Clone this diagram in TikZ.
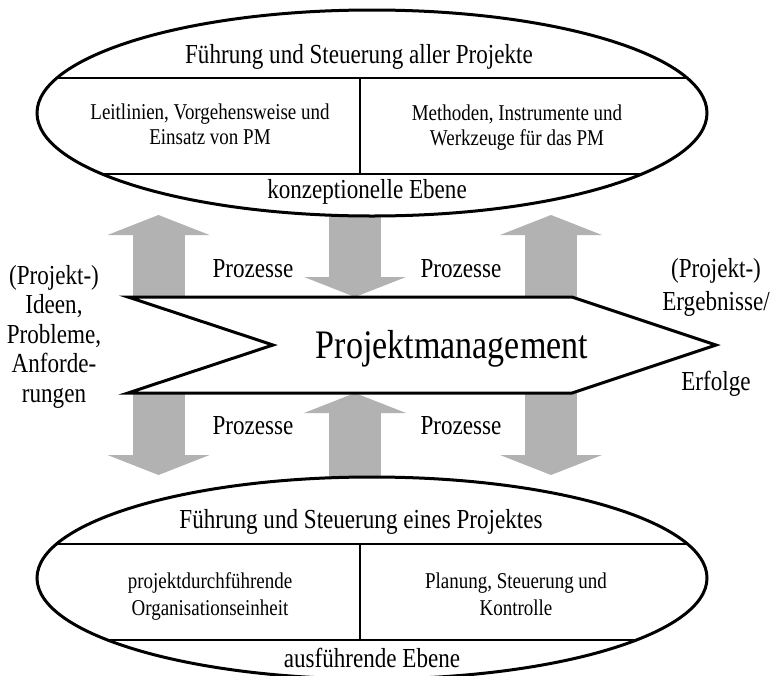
\documentclass[tikz,border=0pt]{standalone}
\usepackage{fontspec}
\setmainfont{Liberation Serif}[FakeStretch=0.84]
\usetikzlibrary{arrows.meta,shapes.geometric}
\begin{document}
\begin{tikzpicture}[x=1pt,y=-1pt,
  lbl/.style={inner sep=0pt, anchor=base, align=center, font=\fontsize{27.5}{29.4}\selectfont},
  boxtxt/.style={inner sep=0pt, anchor=base, align=center, font=\fontsize{22.6}{25}\selectfont},
  bigtxt/.style={inner sep=0pt, anchor=base, font=\fontsize{40.5}{42}\selectfont},
  blockarrow/.style={draw=black!30, line width=52pt,
     -{Triangle[length=20pt 0, width=102pt 0, line width=0pt]}},
  ebene/.style={ellipse, draw, line width=3pt, fill=white, minimum width=670pt,
     minimum height=206pt, inner sep=0pt},
  sepline/.style={line width=1.5pt}]
\useasboundingbox (0,0) rectangle (773,675);

% block arrows
\coordinate (a1s) at (158.5,297); \coordinate (a1e) at (158.5,215);
\coordinate (a2s) at (355,200);   \coordinate (a2e) at (355,297);
\coordinate (a3s) at (551,297);   \coordinate (a3e) at (551,215);
\coordinate (b1s) at (158.5,393); \coordinate (b1e) at (158.5,475);
\coordinate (b2s) at (355,500);   \coordinate (b2e) at (355,393);
\coordinate (b3s) at (551,393);   \coordinate (b3e) at (551,475);
\draw[blockarrow] (a1s) -- (a1e);
\draw[blockarrow] (a2s) -- (a2e);
\draw[blockarrow] (a3s) -- (a3e);
\draw[blockarrow] (b1s) -- (b1e);
\draw[blockarrow] (b2s) -- (b2e);
\draw[blockarrow] (b3s) -- (b3e);

% upper ellipse
\node[ebene] (oben) at (372,113) {};
\draw[sepline] (56.9,78) -- (687.1,78);
\draw[sepline] (102.1,174) -- (641.9,174);
\draw[sepline] (360,78) -- (360,174);
\node[lbl] (t1) at (359,63) {Führung und Steuerung aller Projekte};
\node[boxtxt] (t2) at (210,144) {Leitlinien, Vorgehensweise und\\Einsatz von PM};
\node[boxtxt] (t3) at (517,145) {Methoden, Instrumente und\\Werkzeuge für das PM};
\node[lbl] (t4) at (367,198) {konzeptionelle Ebene};

% lower ellipse
\node[ebene, minimum height=202pt] (unten) at (372,578) {};
\draw[sepline] (56.6,544) -- (687.4,544);
\draw[sepline] (107.6,640) -- (636.4,640);
\draw[sepline] (360,544) -- (360,640);
\node[lbl] (u1) at (361,528) {Führung und Steuerung eines Projektes};
\node[boxtxt, font=\fontsize{22.6}{26.5}\selectfont] (u2) at (210,615) {projektdurchführende\\Organisationseinheit};
\node[boxtxt, font=\fontsize{22.6}{26.5}\selectfont] (u3) at (516,615) {Planung, Steuerung und\\Kontrolle};
\node[lbl] (u4) at (372,667) {ausführende Ebene};

% chevron
\draw[line width=3pt, fill=white, miter limit=10]
  (128,297) coordinate (c1) -- (572,297) coordinate (c2) -- (716,345) coordinate (c3)
  -- (572,393) coordinate (c4) -- (128,393) coordinate (c5) -- (273,345) coordinate (c6) -- cycle;
\node[bigtxt] (pm) at (452,358) {Projektmanagement};

% labels
\node[lbl] (p1) at (253,277) {Prozesse};
\node[lbl] (p2) at (461,277) {Prozesse};
\node[lbl] (p3) at (253,434) {Prozesse};
\node[lbl] (p4) at (461,434) {Prozesse};
\node[lbl] (links) at (54,402) {(Projekt-)\\Ideen,\\Probleme,\\Anforde-\\rungen};
\node[lbl, font=\fontsize{27.5}{33}\selectfont] (rechts) at (716,390) {(Projekt-)\\Ergebnisse/\\[47pt]Erfolge};
\end{tikzpicture}
\end{document}
